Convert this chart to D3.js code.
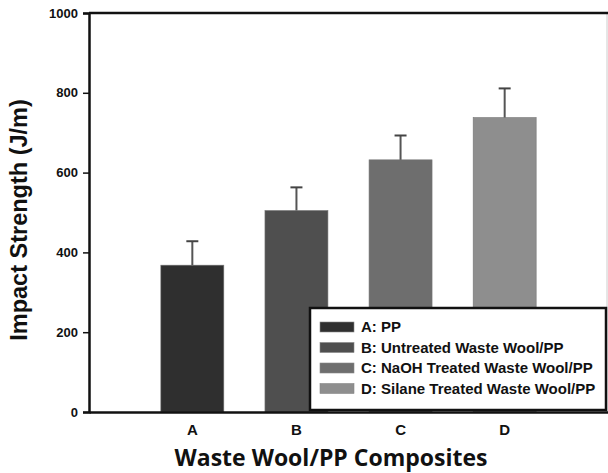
<!DOCTYPE html>
<html>
<head>
<meta charset="utf-8">
<script src="https://cdn.jsdelivr.net/npm/d3@7"></script>
<style>
  body { margin: 0; background: #fff; }
  svg { display: block; }
</style>
</head>
<body>
<div id="chart"></div>
<script>
// Chart data
const categories = ['A', 'B', 'C', 'D'];
const impactValues = [368, 505, 632, 738];
const errorValues = [60, 58, 61, 73];
const legendLabels = ['A: PP', 'B: Untreated Waste Wool/PP', 'C: NaOH Treated Waste Wool/PP', 'D: Silane Treated Waste Wool/PP'];
const yTicks = [0, 200, 400, 600, 800, 1000];

const barColors = ['#2f2f2f', '#4f4f4f', '#6e6e6e', '#8e8e8e'];

const W = 608, H = 473;
const margin = { top: 13, right: 0, bottom: 61, left: 89 };
const width = W - margin.left - margin.right;
const height = H - margin.top - margin.bottom;

const armFont = "'Liberation Sans', Arial, sans-serif";

const data = categories.map((c, i) => ({ cat: c, value: impactValues[i], err: errorValues[i], label: legendLabels[i], color: barColors[i] }));

const svg = d3.select('#chart')
    .append('svg')
    .attr('width', W)
    .attr('height', H);

const g = svg.append('g')
    .attr('transform', `translate(${margin.left},${margin.top})`);

// Scales
const x = d3.scaleBand()
    .domain(categories)
    .range([0, width])
    .paddingInner(0.395)
    .paddingOuter(0.69);

const y = d3.scaleLinear()
    .domain([0, 1000])
    .range([height, 0]);

// faint right border
g.append('line')
    .attr('x1', width - 1).attr('x2', width - 1)
    .attr('y1', 0).attr('y2', height)
    .attr('stroke', '#ccc')
    .attr('stroke-width', 1);

// Bars
g.selectAll('rect.bar')
    .data(data)
    .enter()
    .append('rect')
    .attr('class', 'bar')
    .attr('x', d => x(d.cat))
    .attr('y', d => y(d.value))
    .attr('width', x.bandwidth())
    .attr('height', d => height - y(d.value))
    .attr('fill', d => d.color)
    .attr('stroke', '#777')
    .attr('stroke-width', 0.6);

// Error bars (upper only)
const errG = g.selectAll('g.err')
    .data(data)
    .enter()
    .append('g')
    .attr('class', 'err');

errG.append('line')
    .attr('x1', d => x(d.cat) + x.bandwidth() / 2)
    .attr('x2', d => x(d.cat) + x.bandwidth() / 2)
    .attr('y1', d => y(d.value))
    .attr('y2', d => y(d.value + d.err))
    .attr('stroke', '#555')
    .attr('stroke-width', 2);

errG.append('line')
    .attr('x1', d => x(d.cat) + x.bandwidth() / 2 - 6)
    .attr('x2', d => x(d.cat) + x.bandwidth() / 2 + 6)
    .attr('y1', d => y(d.value + d.err))
    .attr('y2', d => y(d.value + d.err))
    .attr('stroke', '#444')
    .attr('stroke-width', 2);

// Y axis
const yAxis = g.append('g')
    .call(d3.axisLeft(y).tickValues(yTicks).tickFormat(d3.format('d')).tickSize(6).tickPadding(5));
yAxis.select('.domain').attr('stroke', '#111').attr('stroke-width', 2.5);
yAxis.selectAll('.tick line').attr('stroke', '#111').attr('stroke-width', 1.5);
yAxis.selectAll('text')
    .style('font-family', armFont)
    .style('font-weight', 'bold')
    .style('font-size', '13px')
    .attr('fill', '#111');

// top border
g.append('line')
    .attr('x1', 0).attr('x2', width)
    .attr('y1', 0).attr('y2', 0)
    .attr('stroke', '#111')
    .attr('stroke-width', 2.5);

// X axis
const xAxis = g.append('g')
    .attr('transform', `translate(0,${height})`)
    .call(d3.axisBottom(x).tickSize(0).tickPadding(12));
xAxis.select('.domain').attr('stroke', '#111').attr('stroke-width', 2.5);
xAxis.selectAll('text')
    .style('font-family', armFont)
    .style('font-weight', 'bold')
    .style('font-size', '15px')
    .attr('fill', '#111');

// Axis titles
svg.append('text')
    .attr('x', 331)
    .attr('y', 466)
    .attr('text-anchor', 'middle')
    .style('font-family', "'Open Sans', sans-serif")
    .style('font-weight', 'bold')
    .style('font-size', '23px')
    .attr('fill', '#111')
    .text('Waste Wool/PP Composites');

svg.append('text')
    .attr('transform', 'translate(27,220) rotate(-90)')
    .attr('text-anchor', 'middle')
    .style('font-family', armFont)
    .style('font-weight', 'bold')
    .style('font-size', '23.5px')
    .attr('fill', '#111')
    .text('Impact Strength (J/m)');

// Legend
const legend = svg.append('g')
    .attr('transform', 'translate(310,308)');

legend.append('rect')
    .attr('width', 296)
    .attr('height', 102)
    .attr('fill', '#fff')
    .attr('stroke', '#111')
    .attr('stroke-width', 2.5);

const legendItems = legend.selectAll('.legend-item')
    .data(data)
    .enter()
    .append('g')
    .attr('class', 'legend-item')
    .attr('transform', (d, i) => `translate(10, ${14 + i * 20.5})`);

legendItems.append('rect')
    .attr('width', 34)
    .attr('height', 10)
    .attr('fill', d => d.color)
    .attr('stroke', '#888')
    .attr('stroke-width', 0.6);

legendItems.append('text')
    .attr('x', 41)
    .attr('y', 5)
    .attr('dy', '0.35em')
    .style('font-family', armFont)
    .style('font-weight', 'bold')
    .style('font-size', '15px')
    .attr('fill', '#111')
    .text(d => d.label);
</script>
</body>
</html>
